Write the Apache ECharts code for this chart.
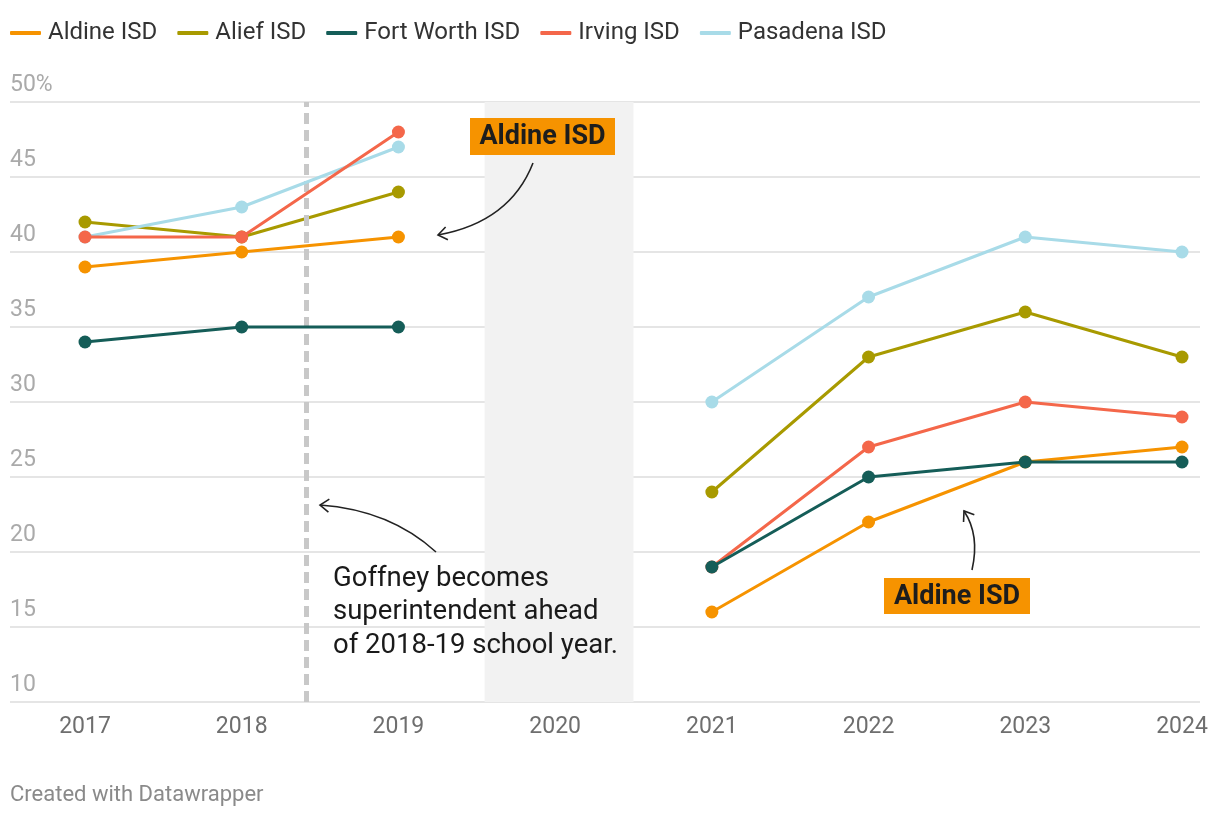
<!DOCTYPE html>
<html>
<head>
<meta charset="utf-8">
<script src="https://cdn.jsdelivr.net/npm/echarts@6/dist/echarts.min.js"></script>
<style>
html,body{margin:0;padding:0;background:#fff;}
#chart{width:1220px;height:818px;}
</style>
</head>
<body>
<div id="chart"></div>
<script>
const years = [2017, 2018, 2019, 2020, 2021, 2022, 2023, 2024];
const aldine    = [39, 40, 41, null, 16, 22, 26, 27];
const alief     = [42, 41, 44, null, 24, 33, 36, 33];
const fortWorth = [34, 35, 35, null, 19, 25, 26, 26];
const irving    = [41, 41, 48, null, 19, 27, 30, 29];
const pasadena  = [41, 43, 47, null, 30, 37, 41, 40];
const seriesNames = ['Aldine ISD', 'Alief ISD', 'Fort Worth ISD', 'Irving ISD', 'Pasadena ISD'];
const yTicks = [10, 15, 20, 25, 30, 35, 40, 45, 50];
const covidBand = [2019.55, 2020.5];
const goffneyLine = 2018.41;

const colors = {
  'Aldine ISD': '#f69300',
  'Alief ISD': '#a89a00',
  'Fort Worth ISD': '#155d58',
  'Irving ISD': '#f4674a',
  'Pasadena ISD': '#a8dbe8'
};

function pairs(vals) { return years.map((y, i) => [y, vals[i]]); }

function mkSeries(name, vals, z) {
  return {
    name: name, type: 'line', data: pairs(vals), z: z,
    connectNulls: false,
    symbol: 'circle', symbolSize: 13,
    lineStyle: { width: 3, color: colors[name] },
    itemStyle: { color: colors[name] },
    emphasis: { disabled: true },
    animation: false
  };
}

const chart = echarts.init(document.getElementById('chart'), null, { renderer: 'canvas' });

const series = [
  mkSeries('Aldine ISD', aldine, 3),
  mkSeries('Alief ISD', alief, 4),
  mkSeries('Pasadena ISD', pasadena, 5),
  mkSeries('Irving ISD', irving, 6),
  mkSeries('Fort Worth ISD', fortWorth, 7)
];
series[0].markArea = {
  silent: true,
  itemStyle: { color: '#f2f2f2' },
  data: [[{ xAxis: covidBand[0] }, { xAxis: covidBand[1] }]],
  z: 0
};
series[0].markLine = {
  silent: true, symbol: 'none',
  label: { show: false },
  lineStyle: { color: '#c8c8c8', width: 5, type: [11, 6] },
  data: [{ xAxis: goffneyLine }]
};

function arrow(x0, y0, cx, cy, x1, y1) {
  const dx = x1 - cx, dy = y1 - cy;
  const len = Math.sqrt(dx * dx + dy * dy);
  const ux = dx / len, uy = dy / len;
  const L = 11, a = Math.PI / 5;
  const p1 = [x1 - L * (ux * Math.cos(a) - uy * Math.sin(a)), y1 - L * (uy * Math.cos(a) + ux * Math.sin(a))];
  const p2 = [x1 - L * (ux * Math.cos(a) + uy * Math.sin(a)), y1 - L * (uy * Math.cos(a) - ux * Math.sin(a))];
  return [
    { type: 'bezierCurve', shape: { x1: x0, y1: y0, cpx1: cx, cpy1: cy, x2: x1, y2: y1 },
      style: { stroke: '#222', lineWidth: 1.6, fill: null }, z: 100 },
    { type: 'polyline', shape: { points: [p1, [x1, y1], p2] },
      style: { stroke: '#222', lineWidth: 1.6, fill: null }, z: 100 }
  ];
}

function labelBox(x, y, w, h, text) {
  return [
    { type: 'rect', shape: { x: x, y: y, width: w, height: h }, style: { fill: '#f69300' }, z: 100 },
    { type: 'text', x: x + w / 2, y: y + h / 2 + 1, z: 101,
      style: { text: text, fill: '#1d1d1d', font: 'bold 27px Roboto', align: 'center', verticalAlign: 'middle' } }
  ];
}

const option = {
  backgroundColor: '#ffffff',
  animation: false,
  textStyle: { fontFamily: 'Roboto' },
  legend: {
    data: seriesNames,
    left: 10, top: 21, padding: 0,
    icon: 'roundRect',
    itemWidth: 31, itemHeight: 4, itemGap: 20,
    textStyle: { fontSize: 24, color: '#333', fontFamily: 'Roboto', padding: [0, 0, 0, 2] },
    selectedMode: false
  },
  grid: { left: 10, right: 20, top: 102, bottom: 116, containLabel: false },
  xAxis: {
    type: 'value',
    min: 2016.5214, max: 2024.1149,
    axisLine: { show: false }, axisTick: { show: false },
    splitLine: { show: false },
    axisLabel: {
      customValues: years, color: '#6e6e6e', fontSize: 23, margin: 14,
      fontFamily: 'Roboto', formatter: v => String(Math.round(v))
    }
  },
  yAxis: {
    type: 'value', min: 10, max: 50, interval: 5,
    axisLine: { show: false }, axisTick: { show: false },
    splitLine: { lineStyle: { color: '#e5e5e5', width: 2 } },
    axisLabel: {
      inside: true, margin: 0, color: '#aaaaaa', fontSize: 23, fontFamily: 'Roboto',
      verticalAlign: 'bottom', padding: [0, 0, 5, 0],
      formatter: v => (v === 50 ? v + '%' : String(v))
    }
  },
  series: series,
  graphic: [
    ...labelBox(470, 118, 145, 37, 'Aldine ISD'),
    ...labelBox(884, 578, 146, 36, 'Aldine ISD'),
    ...arrow(533, 163, 510, 222, 438, 235),
    ...arrow(972, 570, 980, 535, 964, 511),
    ...arrow(436, 552, 390, 510, 320, 505),
    { type: 'text', left: 333, top: 562, z: 100,
      style: { text: 'Goffney becomes\nsuperintendent ahead\nof 2018-19 school year.', fill: '#1a1a1a',
               font: '27.5px Roboto', lineHeight: 33.5 } },
    { type: 'text', left: 10, top: 784, z: 100,
      style: { text: 'Created with Datawrapper', fill: '#8a8a8a', font: '22px Roboto' } }
  ]
};
chart.setOption(option);
</script>
</body>
</html>
